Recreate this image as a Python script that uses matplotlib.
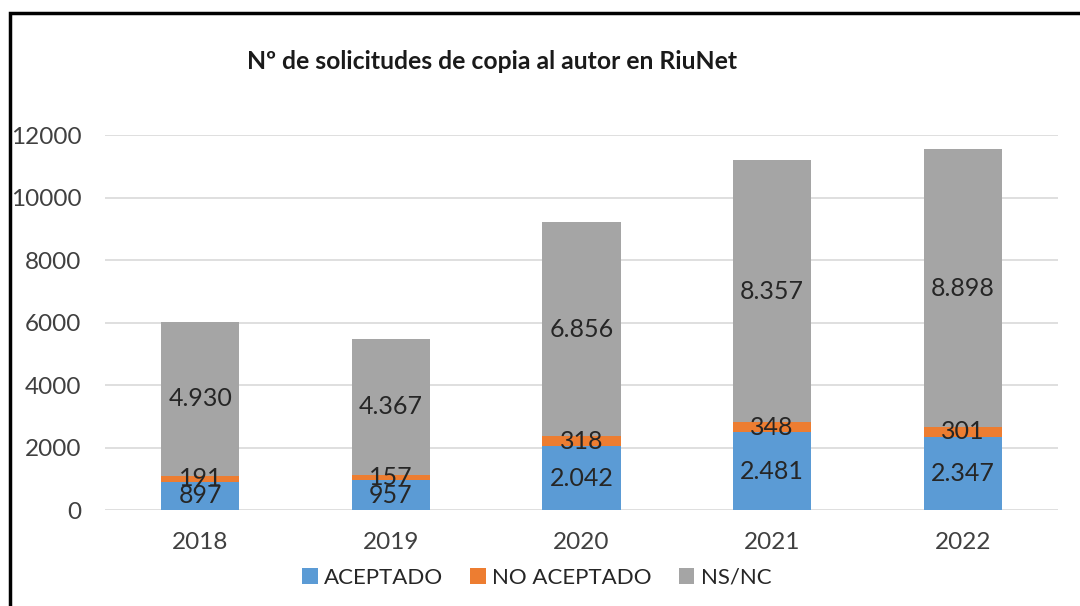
import matplotlib
matplotlib.use("Agg")
import matplotlib.pyplot as plt
from matplotlib.patches import Rectangle
import numpy as np

plt.rcParams['font.family'] = ['Lato', 'DejaVu Sans']

years = ['2018', '2019', '2020', '2021', '2022']
aceptado = [897, 957, 2042, 2481, 2347]
no_aceptado = [191, 157, 318, 348, 301]
ns_nc = [4930, 4367, 6856, 8357, 8898]
series_names = ['ACEPTADO', 'NO ACEPTADO', 'NS/NC']
colors = ['#5B9BD5', '#ED7D31', '#A5A5A5']
title = 'Nº de solicitudes de copia al autor en RiuNet'
yticks = [0, 2000, 4000, 6000, 8000, 10000, 12000]

def fmt(v):
    return f"{v:,}".replace(',', '.')

fig = plt.figure(figsize=(10.8, 6.06), dpi=100)
ax = fig.add_axes([0.0972, 0.1584, 0.9796 - 0.0972, 0.7772 - 0.1584])

x = np.arange(len(years))
width = 0.41
bottom = np.zeros(len(years))
for vals, name, col in zip([aceptado, no_aceptado, ns_nc], series_names, colors):
    vals = np.array(vals, dtype=float)
    ax.bar(x, vals, width, bottom=bottom, color=col, label=name, zorder=3)
    for xi, b, v in zip(x, bottom, vals):
        ax.text(xi, b + v / 2, fmt(int(v)), ha='center', va='center',
                fontsize=18, color='#262626', zorder=4)
    bottom += vals

ax.set_xlim(-0.5, len(years) - 0.5)
ax.set_ylim(0, 12000)
ax.set_yticks(yticks)
ax.set_yticklabels([str(t) for t in yticks])
ax.set_xticks(x)
ax.set_xticklabels(years)
ax.tick_params(axis='both', length=0, labelsize=17.5, colors='#404040')
ax.tick_params(axis='y', pad=17)
ax.tick_params(axis='x', pad=16)
for s in ax.spines.values():
    s.set_visible(False)
ax.yaxis.grid(True, color='#D9D9D9', linewidth=1.2, zorder=0)
ax.set_axisbelow(True)

fig.text(0.456, 0.899, title, ha='center', va='center', fontsize=17.8,
         fontweight='bold', color='#1a1a1a')

fig.legend(loc='center', bbox_to_anchor=(0.497, 0.047), ncol=3,
           frameon=False, fontsize=16, handlelength=0.7, handleheight=0.7,
           handletextpad=0.3, columnspacing=1.2, labelcolor='#262626')

fig.patches.append(Rectangle((10 / 1080, -0.05), 1.2, 1 - 13 / 606 + 0.05,
                             transform=fig.transFigure, fill=False,
                             edgecolor='black', linewidth=2.5))

fig.savefig('out.png', dpi=100, facecolor='white')
